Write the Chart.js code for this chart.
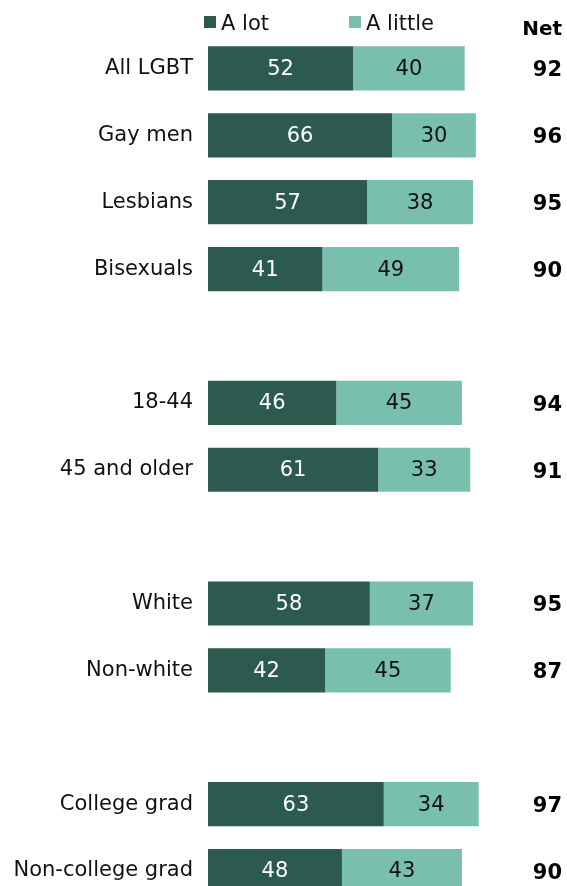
<!DOCTYPE html>
<html>
<head>
<meta charset="utf-8">
<script src="https://cdn.jsdelivr.net/npm/chart.js@4/dist/chart.umd.min.js"></script>
<style>
  html, body { margin: 0; padding: 0; background: #fff; overflow: hidden; }
  canvas { display: block; }
</style>
</head>
<body>
<canvas id="chart" width="567" height="932"></canvas>
<script>
// Rows, with blank rows between groups
const categories = ['All LGBT', 'Gay men', 'Lesbians', 'Bisexuals', '',
    '18-44', '45 and older', '',
    'White', 'Non-white', '',
    'College grad', 'Non-college grad'];
const aLot = [52, 66, 57, 41, null, 46, 61, null, 58, 42, null, 63, 48];
const aLittle = [40, 30, 38, 49, null, 45, 33, null, 37, 45, null, 34, 43];
const net = [92, 96, 95, 90, null, 94, 91, null, 95, 87, null, 97, 90];
const seriesNames = ['A lot', 'A little'];

const darkGreen = '#2c5a4f';
const lightGreen = '#78bfad';
const fontFamily = '"DejaVu Sans", sans-serif';

// Numbers inside the bars, net column and the legend
const overlayPlugin = {
    id: 'overlay',
    afterDatasetsDraw(chart) {
        const ctx = chart.ctx;
        ctx.save();

        // values inside segments
        ctx.font = '21px ' + fontFamily;
        ctx.textAlign = 'center';
        ctx.textBaseline = 'middle';
        chart.data.datasets.forEach((ds, i) => {
            const meta = chart.getDatasetMeta(i);
            meta.data.forEach((bar, j) => {
                const v = ds.data[j];
                if (v == null) return;
                ctx.fillStyle = i === 0 ? '#ffffff' : '#111111';
                ctx.fillText(v, (bar.base + bar.x) / 2, bar.y + 1);
            });
        });

        // net column
        const right = chart.width - 5;
        ctx.textAlign = 'right';
        ctx.textBaseline = 'alphabetic';
        ctx.fillStyle = '#000000';
        ctx.font = 'bold 20px ' + fontFamily;
        ctx.fillText('Net', right, 35);
        ctx.font = 'bold 21px ' + fontFamily;
        const meta0 = chart.getDatasetMeta(0);
        net.forEach((v, j) => {
            if (v == null) return;
            ctx.fillText(v, right, meta0.data[j].y + 8);
        });

        // legend
        ctx.textAlign = 'left';
        ctx.font = '21px ' + fontFamily;
        const legendX = [204, 349];
        chart.data.datasets.forEach((ds, i) => {
            ctx.fillStyle = ds.backgroundColor;
            ctx.fillRect(legendX[i], 16, 12, 12);
            ctx.fillStyle = '#111111';
            ctx.fillText(ds.label, legendX[i] + 17, 30);
        });

        ctx.restore();
    }
};

new Chart(document.getElementById('chart'), {
    type: 'bar',
    data: {
        labels: categories,
        datasets: [
            { label: seriesNames[0], data: aLot, backgroundColor: darkGreen },
            { label: seriesNames[1], data: aLittle, backgroundColor: lightGreen }
        ]
    },
    options: {
        indexAxis: 'y',
        responsive: false,
        animation: false,
        layout: { padding: { top: 35, right: 80, bottom: 0, left: 0 } },
        datasets: {
            bar: { categoryPercentage: 1, barPercentage: 0.66, borderWidth: 0 }
        },
        scales: {
            x: {
                stacked: true,
                min: 0,
                max: 100,
                display: false
            },
            y: {
                stacked: true,
                grid: { display: false, drawTicks: false },
                border: { display: false },
                ticks: {
                    color: '#111111',
                    padding: 15,
                    font: { family: fontFamily, size: 21 }
                },
                afterFit(scale) { scale.width = 208; }
            }
        },
        plugins: {
            legend: { display: false },
            tooltip: { enabled: false }
        }
    },
    plugins: [overlayPlugin]
});
</script>
</body>
</html>
